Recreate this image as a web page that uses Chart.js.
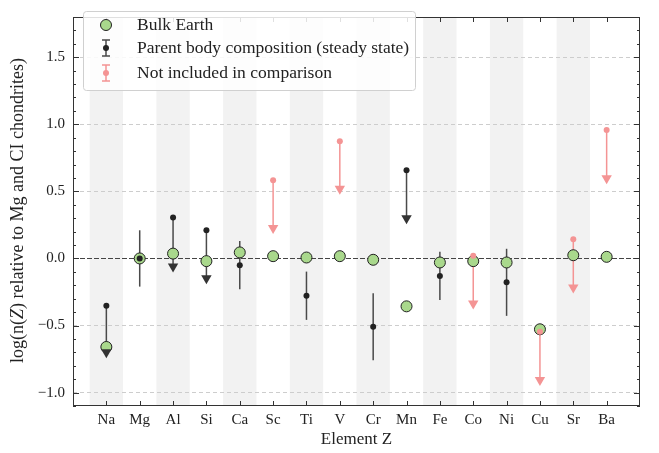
<!DOCTYPE html>
<html lang="en">
<head>
<meta charset="UTF-8">
<title>Element abundances</title>
<style>
  body { margin: 0; background: #fff; }
  #wrap { width: 659px; height: 453px; }
</style>
</head>
<body>
<div id="wrap"><canvas id="abundChart" width="659" height="453"></canvas></div>
<script src="https://cdn.jsdelivr.net/npm/chart.js"></script>
<script>
// elements along the x axis
const elements = ['Na', 'Mg', 'Al', 'Si', 'Ca', 'Sc', 'Ti', 'V', 'Cr', 'Mn', 'Fe', 'Co', 'Ni', 'Cu', 'Sr', 'Ba'];
// bulk Earth, log relative to Mg and CI
const bulkEarth = [-0.66, 0.0, 0.036, -0.02, 0.045, 0.017, 0.007, 0.017, -0.01, -0.357, -0.03, -0.02, -0.03, -0.528, 0.024, 0.012];
// parent body composition (steady state)
const parentBody = [-0.353, 0.0, 0.305, 0.21, -0.05, 0.583, -0.278, 0.873, -0.509, 0.657, -0.13, 0.02, -0.178, -0.547, 0.144, 0.957];
// symmetric errors, null where only an upper limit is given
const parentErr = [null, 0.21, null, null, 0.18, null, 0.18, null, 0.25, null, 0.18, null, 0.25, null, null, null];
// where the upper-limit arrow ends
const limitEnd = [-0.70, null, -0.06, -0.147, null, 0.227, null, 0.52, null, 0.30, null, -0.336, null, -0.906, -0.216, 0.597];
// false = not included in comparison
const included = [true, true, true, true, true, false, true, false, true, true, true, false, true, false, false, false];
const yTicks = [-1.0, -0.5, 0.0, 0.5, 1.0, 1.5];

const SERIF = "'Liberation Serif', 'DejaVu Serif', serif";
const BLACK = '#222222';
const LINE_BLACK = '#4a4a4a';
const PINK = '#f49494';
const GREEN = '#a9d88c';

function pts(vals, keep) {
  const out = [];
  vals.forEach((v, i) => { if (v !== null && keep(i)) out.push({ x: i, y: v }); });
  return out;
}

// shaded bands, zero line, error bars and limit arrows
const decor = {
  id: 'decor',
  beforeDraw(chart) {
    const { ctx, chartArea: a, scales: { x } } = chart;
    ctx.save();
    ctx.fillStyle = '#f2f2f2';
    for (let i = 0; i < elements.length; i += 2) {
      const l = x.getPixelForValue(i - 0.5), r = x.getPixelForValue(i + 0.5);
      ctx.fillRect(l, a.top, r - l, a.bottom - a.top);
    }
    ctx.restore();
  },
  beforeDatasetsDraw(chart) {
    const { ctx, chartArea: a, scales: { x, y } } = chart;
    ctx.save();
    const y0 = Math.round(y.getPixelForValue(0)) + 0.5;
    ctx.strokeStyle = '#444';
    ctx.lineWidth = 1;
    ctx.setLineDash([5, 2]);
    ctx.beginPath(); ctx.moveTo(a.left, y0); ctx.lineTo(a.right, y0); ctx.stroke();
    ctx.setLineDash([]);
    ctx.lineWidth = 1.5;
    elements.forEach((el, i) => {
      const px = x.getPixelForValue(i);
      ctx.strokeStyle = included[i] ? LINE_BLACK : PINK;
      let from, to;
      if (parentErr[i] !== null) {
        from = parentBody[i] - parentErr[i]; to = parentBody[i] + parentErr[i];
      } else if (limitEnd[i] !== null) {
        from = limitEnd[i]; to = parentBody[i];
      } else return;
      ctx.beginPath();
      ctx.moveTo(px, y.getPixelForValue(from));
      ctx.lineTo(px, y.getPixelForValue(to));
      ctx.stroke();
    });
    ctx.restore();
  },
  afterDraw(chart) {
    const { ctx, chartArea: a, scales: { x, y } } = chart;
    ctx.save();
    // frame
    ctx.strokeStyle = '#333';
    ctx.lineWidth = 1;
    ctx.strokeRect(a.left + 0.5, a.top + 0.5, a.right - a.left - 1, a.bottom - a.top - 1);
    // inward ticks
    ctx.beginPath();
    elements.forEach((el, i) => {
      const px = Math.round(x.getPixelForValue(i)) + 0.5;
      ctx.moveTo(px, a.bottom); ctx.lineTo(px, a.bottom - 5);
      ctx.moveTo(px, a.top); ctx.lineTo(px, a.top + 5);
    });
    for (let k = -11; k <= 18; k++) {
      const py = Math.round(y.getPixelForValue(k / 10)) + 0.5;
      const len = k % 5 === 0 ? 6 : 3;
      ctx.moveTo(a.left, py); ctx.lineTo(a.left + len, py);
      ctx.moveTo(a.right, py); ctx.lineTo(a.right - len, py);
    }
    ctx.stroke();

    // y title with italic Z
    const parts = [['log(n(', ''], ['Z', 'italic '], [') relative to Mg and CI chondrites)', '']];
    ctx.fillStyle = BLACK;
    ctx.translate(18, (a.top + a.bottom) / 2 - 1);
    ctx.rotate(-Math.PI / 2);
    let total = 0;
    parts.forEach(p => { ctx.font = p[1] + '18px ' + SERIF; total += ctx.measureText(p[0]).width; });
    let cx = -total / 2;
    ctx.textBaseline = 'middle';
    parts.forEach(p => {
      ctx.font = p[1] + '18px ' + SERIF;
      ctx.fillText(p[0], cx, 0);
      cx += ctx.measureText(p[0]).width;
    });
    ctx.restore();

    // legend
    ctx.save();
    const bx = 83, by = 11, bw = 332, bh = 79;
    ctx.fillStyle = 'rgba(255,255,255,0.85)';
    ctx.strokeStyle = '#d0d0d0';
    ctx.lineWidth = 1;
    ctx.beginPath();
    ctx.roundRect(bx + 0.5, by + 0.5, bw, bh, 3);
    ctx.fill(); ctx.stroke();
    const mx = 106;
    const rows = [25, 48, 73];
    // bulk Earth marker
    ctx.beginPath(); ctx.arc(mx, rows[0], 5.5, 0, Math.PI * 2);
    ctx.fillStyle = GREEN; ctx.fill();
    ctx.strokeStyle = BLACK; ctx.stroke();
    // errorbar markers
    [[rows[1], LINE_BLACK, BLACK], [rows[2], PINK, PINK]].forEach(([ry, lc, dc]) => {
      ctx.strokeStyle = lc; ctx.lineWidth = 1.5;
      ctx.beginPath();
      ctx.moveTo(mx, ry - 8); ctx.lineTo(mx, ry + 8);
      ctx.moveTo(mx - 4, ry - 8); ctx.lineTo(mx + 4, ry - 8);
      ctx.moveTo(mx - 4, ry + 8); ctx.lineTo(mx + 4, ry + 8);
      ctx.stroke();
      ctx.beginPath(); ctx.arc(mx, ry, 3, 0, Math.PI * 2);
      ctx.fillStyle = dc; ctx.fill();
    });
    ctx.fillStyle = BLACK;
    ctx.font = '17.5px ' + SERIF;
    ctx.textBaseline = 'middle';
    ctx.fillText('Bulk Earth', 137, rows[0]);
    ctx.fillText('Parent body composition (steady state)', 137, rows[1]);
    ctx.fillText('Not included in comparison', 137, rows[2]);
    ctx.restore();
  }
};

new Chart(document.getElementById('abundChart'), {
  type: 'scatter',
  data: {
    datasets: [
      {
        label: 'Parent body composition (steady state)',
        data: pts(parentBody, i => included[i]),
        pointRadius: 3, pointBackgroundColor: BLACK, pointBorderWidth: 0, order: 1
      },
      {
        label: 'Not included in comparison',
        data: pts(parentBody, i => !included[i]),
        pointRadius: 3, pointBackgroundColor: PINK, pointBorderWidth: 0, order: 1
      },
      {
        label: 'limit black',
        data: pts(limitEnd, i => included[i]),
        pointStyle: 'triangle', rotation: 180, pointRadius: 6,
        pointBackgroundColor: '#333', pointBorderWidth: 0, order: 2
      },
      {
        label: 'limit pink',
        data: pts(limitEnd, i => !included[i]),
        pointStyle: 'triangle', rotation: 180, pointRadius: 6,
        pointBackgroundColor: PINK, pointBorderWidth: 0, order: 2
      },
      {
        label: 'Bulk Earth',
        data: pts(bulkEarth, () => true),
        pointRadius: 5.5, pointBackgroundColor: GREEN, pointBorderColor: BLACK, pointBorderWidth: 1, order: 3
      }
    ]
  },
  options: {
    responsive: false,
    animation: false,
    layout: { padding: { top: 2, right: 19, left: 0, bottom: 0 } },
    plugins: { legend: { display: false }, tooltip: { enabled: false } },
    scales: {
      x: {
        type: 'linear', min: -1, max: 16,
        afterBuildTicks(s) { s.ticks = elements.map((e, i) => ({ value: i })); },
        afterFit(s) { s.height = 47; },
        grid: { display: false, drawTicks: false },
        border: { display: false },
        ticks: {
          padding: 5, color: BLACK, maxRotation: 0, autoSkip: false,
          font: { family: SERIF, size: 15 },
          callback: v => elements[v] ?? ''
        },
        title: {
          display: true, text: 'Element Z', color: BLACK,
          font: { family: SERIF, size: 17 }, padding: { top: 0, bottom: 3 }
        }
      },
      y: {
        min: -1.1, max: 1.8,
        afterBuildTicks(s) { s.ticks = yTicks.map(v => ({ value: v })); },
        afterFit(s) { s.width = 73; },
        grid: { color: '#cdcdcd', drawTicks: false },
        border: { display: false, dash: [4, 3] },
        ticks: {
          padding: 8, color: BLACK,
          font: { family: SERIF, size: 15 },
          callback: v => (v < 0 ? '\u2212' : '') + Math.abs(v).toFixed(1)
        }
      }
    }
  },
  plugins: [decor]
});
</script>
</body>
</html>
